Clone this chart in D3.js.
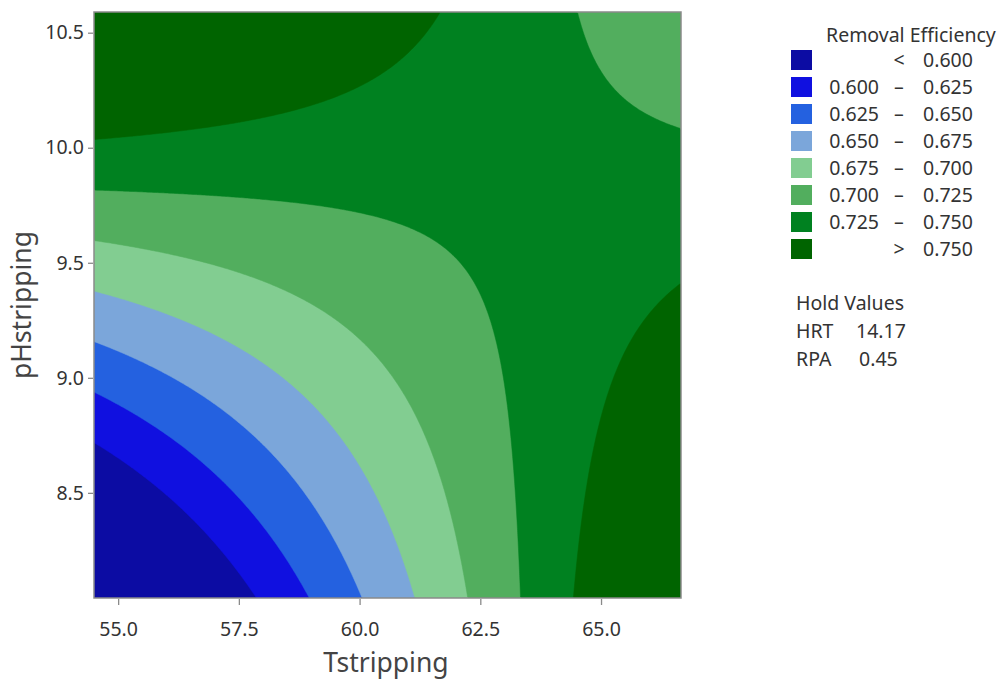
<!DOCTYPE html>
<head>
  <style>
    body { margin: 0; background: #fff; }
    text { font-family: "Noto Sans", "Open Sans", sans-serif; }
  </style>
</head>
<body>
  <script src="https://cdn.jsdelivr.net/npm/d3@7"></script>
  <script>
    // contour levels and their fill colours (lowest band first)
    var levels = [0.600, 0.625, 0.650, 0.675, 0.700, 0.725, 0.750]
    var bandColors = ["#0c0ca3", "#1010e0", "#2461e0", "#7ba6da", "#82cd91", "#52ae5e", "#008120", "#006400"]
    var bandLabels = [
      ["", "<", "0.600"],
      ["0.600", "–", "0.625"],
      ["0.625", "–", "0.650"],
      ["0.650", "–", "0.675"],
      ["0.675", "–", "0.700"],
      ["0.700", "–", "0.725"],
      ["0.725", "–", "0.750"],
      ["", ">", "0.750"]
    ]
    var xTicks = [55.0, 57.5, 60.0, 62.5, 65.0]
    var yTicks = [8.5, 9.0, 9.5, 10.0, 10.5]
    var xRange = [54.5, 66.656]
    var yRange = [8.043, 10.59]
    // fitted surface: [const, T, pH, T*pH]
    var surfaceCoef = [-7.08653, 0.122823, 0.791241, -0.012429]
    var holdNames = ["HRT", "RPA"]
    var holdValues = ["14.17", "0.45"]

    var w = 1004, h = 680
    var pLeft = 94, pRight = 681, pTop = 12, pBottom = 598

    var svg = d3.select("body").append("svg")
                .attr("width", w)
                .attr("height", h)

    var x = d3.scaleLinear().domain(xRange).range([pLeft, pRight])
    var y = d3.scaleLinear().domain(yRange).range([pBottom, pTop])

    // sample the surface on a grid
    var n = 300, m = 300
    var values = new Array(n * m)
    for (var j = 0; j < m; j++) {
      var p = yRange[1] - (j + 0.5) / m * (yRange[1] - yRange[0])
      for (var i = 0; i < n; i++) {
        var t = xRange[0] + (i + 0.5) / n * (xRange[1] - xRange[0])
        values[j * n + i] = surfaceCoef[0] + surfaceCoef[1] * t + surfaceCoef[2] * p + surfaceCoef[3] * t * p
      }
    }

    var contours = d3.contours().size([n, m]).smooth(true).thresholds(levels)(values)

    var proj = d3.geoTransform({
      point: function (gx, gy) {
        this.stream.point(pLeft + gx / n * (pRight - pLeft), pTop + gy / m * (pBottom - pTop))
      }
    })
    var path = d3.geoPath(proj)

    svg.append("clipPath").attr("id", "plotclip")
       .append("rect")
       .attr("x", pLeft).attr("y", pTop)
       .attr("width", pRight - pLeft).attr("height", pBottom - pTop)

    var plot = svg.append("g").attr("clip-path", "url(#plotclip)")

    plot.append("rect")
        .attr("x", pLeft).attr("y", pTop)
        .attr("width", pRight - pLeft).attr("height", pBottom - pTop)
        .attr("fill", bandColors[0])

    plot.selectAll("path.band")
        .data(contours)
        .enter()
        .append("path")
        .attr("class", "band")
        .attr("d", path)
        .attr("fill", function (d, i) { return bandColors[i + 1] })
        .attr("stroke", function (d, i) { return bandColors[i + 1] })
        .attr("stroke-width", 0.5)

    // frame
    svg.append("rect")
       .attr("x", pLeft).attr("y", pTop)
       .attr("width", pRight - pLeft).attr("height", pBottom - pTop)
       .attr("fill", "none")
       .attr("stroke", "#8a8a8a")
       .attr("stroke-width", 1.5)

    // axes
    var xAxis = d3.axisBottom(x).tickValues(xTicks).tickFormat(d3.format(".1f")).tickSize(6).tickPadding(17)
    var yAxis = d3.axisLeft(y).tickValues(yTicks).tickFormat(d3.format(".1f")).tickSize(5).tickPadding(4)

    var gx = svg.append("g")
                .attr("transform", "translate(0," + (pBottom + 1) + ")")
                .call(xAxis)
    var gy = svg.append("g")
                .attr("transform", "translate(" + (pLeft - 1) + ",0)")
                .call(yAxis)

    ;[gx, gy].forEach(function (g) {
      g.select(".domain").remove()
      g.selectAll(".tick line").attr("stroke", "#8a8a8a").attr("stroke-width", 1.3)
      g.selectAll(".tick text")
       .attr("font-family", "'Noto Sans', sans-serif")
       .attr("font-size", "19.5px")
       .attr("fill", "#333")
    })

    svg.append("text")
       .attr("text-anchor", "middle")
       .attr("x", 386)
       .attr("y", 672)
       .attr("font-size", "26.5px")
       .attr("fill", "#444")
       .text("Tstripping")

    svg.append("text")
       .attr("text-anchor", "middle")
       .attr("transform", "rotate(-90)")
       .attr("x", -305)
       .attr("y", 31)
       .attr("font-size", "26.5px")
       .attr("fill", "#444")
       .text("pHstripping")

    // legend
    var fs = "19.5px"
    var legend = svg.append("g")
    legend.append("text")
          .attr("x", 826).attr("y", 42)
          .attr("font-size", fs).attr("fill", "#333")
          .text("Removal Efficiency")

    var rows = legend.selectAll("g.row")
                     .data(bandLabels)
                     .enter()
                     .append("g")
                     .attr("class", "row")
                     .attr("transform", function (d, i) { return "translate(0," + (50 + i * 27) + ")" })

    rows.append("rect")
        .attr("x", 791).attr("y", 0)
        .attr("width", 21).attr("height", 20)
        .attr("fill", function (d, i) { return bandColors[i] })

    rows.append("text")
        .attr("x", 879).attr("y", 17)
        .attr("text-anchor", "end")
        .attr("font-size", fs).attr("fill", "#333")
        .text(function (d) { return d[0] })
    rows.append("text")
        .attr("x", 899).attr("y", 17)
        .attr("text-anchor", "middle")
        .attr("font-size", fs).attr("fill", "#333")
        .text(function (d) { return d[1] })
    rows.append("text")
        .attr("x", 923).attr("y", 17)
        .attr("font-size", fs).attr("fill", "#333")
        .text(function (d) { return d[2] })

    legend.append("text")
          .attr("x", 796).attr("y", 310)
          .attr("font-size", fs).attr("fill", "#333")
          .text("Hold Values")

    holdNames.forEach(function (name, i) {
      legend.append("text")
            .attr("x", 796).attr("y", 338 + i * 28)
            .attr("font-size", fs).attr("fill", "#333")
            .text(name)
      legend.append("text")
            .attr("x", 856 + i * 3).attr("y", 338 + i * 28)
            .attr("font-size", fs).attr("fill", "#333")
            .text(holdValues[i])
    })
  </script>
</body>
